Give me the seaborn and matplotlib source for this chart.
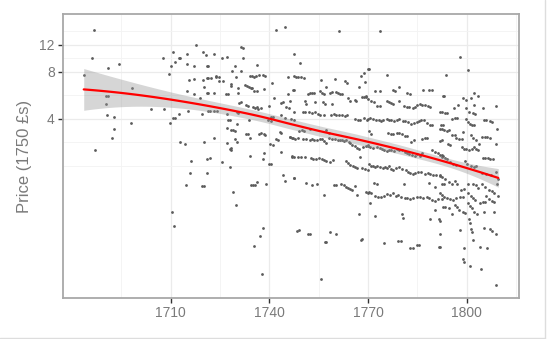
import numpy as np
import pandas as pd
import matplotlib
matplotlib.use('Agg')
import matplotlib.pyplot as plt
from matplotlib.lines import Line2D
from matplotlib.ticker import NullFormatter
import seaborn as sns

# (year, price in 1750 pounds), one list per stretch of years
era_1680_1725 = [
    (1686.6, 14.8), (1686.1, 9.8), (1690.9, 8.5), (1694.3, 9.0), (1683.6, 7.6),
    (1691.0, 5.6), (1690.5, 5.6), (1690.3, 5.0), (1690.8, 4.2), (1692.8, 4.1),
    (1697.9, 3.75), (1692.7, 3.45), (1692.1, 3.0), (1687.0, 2.5), (1698.2, 6.3),
    (1717.7, 11.9), (1707.8, 9.9), (1710.8, 10.7), (1710.0, 8.7), (1711.2, 9.3),
    (1712.5, 9.9), (1713.0, 9.9), (1714.9, 10.4), (1714.9, 9.0), (1717.0, 8.7),
    (1719.9, 10.7), (1720.7, 10.3), (1723.2, 10.4), (1721.1, 8.8), (1721.5, 8.8),
    (1709.5, 7.8), (1715.7, 7.1), (1717.1, 7.2), (1719.9, 7.1), (1721.0, 7.3),
    (1721.5, 7.35), (1722.2, 7.35), (1723.8, 7.4), (1724.6, 7.0), (1720.2, 6.4),
    (1715.1, 6.0), (1717.1, 5.8), (1718.9, 5.4), (1721.0, 5.9), (1721.5, 5.9),
    (1723.2, 5.9), (1704.1, 4.6), (1707.9, 4.6), (1715.2, 4.5), (1719.7, 4.3),
    (1721.4, 4.5), (1722.1, 4.5), (1723.2, 4.5), (1724.0, 4.5), (1712.6, 4.3),
    (1710.8, 4.05), (1711.3, 4.05), (1709.8, 3.75), (1713.0, 2.85), (1714.4, 2.75),
    (1720.2, 2.85), (1723.2, 3.0), (1716.2, 2.15), (1721.2, 2.2), (1722.0, 2.25),
    (1715.8, 1.8), (1721.2, 1.8), (1714.7, 1.5), (1719.7, 1.47), (1720.2, 1.47),
    (1710.5, 1.0), (1711.0, 0.82),
]

era_1724_1748 = [
    (1742.1, 14.9), (1744.9, 15.6), (1731.5, 11.5), (1731.9, 11.4), (1725.7, 9.8),
    (1727.0, 10.0), (1732.0, 9.9), (1729.7, 8.7), (1736.3, 8.9), (1728.8, 8.1),
    (1731.5, 8.1), (1723.9, 7.5), (1724.7, 7.4), (1725.9, 7.0), (1730.0, 7.4),
    (1734.1, 7.5), (1734.8, 7.5), (1735.4, 7.4), (1736.0, 7.5), (1736.8, 7.7),
    (1738.2, 7.7), (1738.7, 7.5), (1745.7, 7.4), (1747.5, 7.5), (1728.5, 6.7),
    (1728.3, 6.5), (1730.5, 6.3), (1732.6, 6.6), (1733.1, 6.5), (1733.8, 6.4),
    (1734.4, 6.3), (1734.8, 6.3), (1740.9, 6.8), (1745.7, 5.8), (1747.5, 6.1),
    (1726.7, 5.8), (1727.5, 5.8), (1730.5, 5.9), (1738.4, 6.2), (1736.2, 6.0),
    (1735.4, 6.0), (1741.5, 5.45), (1743.7, 5.05), (1744.2, 5.1), (1730.7, 5.05),
    (1731.3, 5.1), (1739.8, 4.85), (1732.8, 4.9), (1733.4, 4.85), (1735.1, 4.75),
    (1735.6, 4.7), (1736.2, 4.75), (1736.6, 4.6), (1737.6, 4.7), (1745.1, 4.75),
    (1746.1, 4.7), (1730.1, 4.4), (1730.5, 4.35), (1727.0, 4.3), (1740.5, 4.1),
    (1741.1, 4.1), (1743.5, 4.2), (1744.7, 4.05), (1746.7, 4.0), (1747.5, 3.95),
    (1728.0, 3.9), (1727.5, 3.9), (1733.8, 3.9), (1739.7, 3.9), (1740.5, 3.85),
    (1730.3, 3.7), (1727.1, 3.5), (1728.5, 3.37), (1728.9, 3.4), (1729.5, 3.35),
    (1733.0, 3.2), (1733.6, 3.2), (1736.8, 3.2), (1737.4, 3.25), (1738.4, 3.2),
    (1738.8, 3.15), (1743.3, 3.27), (1743.7, 3.25), (1746.3, 3.05), (1747.3, 3.0),
    (1727.1, 2.8), (1728.3, 2.6), (1728.1, 2.55), (1728.5, 2.5), (1729.7, 2.95),
    (1730.1, 2.85), (1734.2, 3.0), (1740.3, 2.75), (1741.1, 2.7), (1742.1, 2.95),
    (1742.5, 2.9), (1743.7, 2.45), (1734.2, 2.3), (1738.4, 2.4), (1738.1, 2.2),
    (1746.9, 2.3), (1725.7, 2.1), (1728.1, 1.95), (1739.9, 2.05), (1740.5, 2.05),
    (1744.1, 1.73), (1744.9, 1.6), (1747.5, 1.66), (1734.4, 1.5), (1735.0, 1.5),
    (1735.6, 1.5), (1736.4, 1.57), (1739.0, 1.52), (1728.9, 1.35), (1729.9, 1.12),
    (1738.2, 0.79), (1737.2, 0.70), (1735.4, 0.61), (1737.9, 0.40),
]

era_1746_1770 = [
    (1761.2, 14.6), (1747.6, 10.5), (1749.4, 9.1), (1748.0, 7.4), (1748.8, 7.4),
    (1749.6, 7.4), (1750.7, 7.3), (1755.8, 7.1), (1757.1, 6.4), (1760.0, 7.2),
    (1763.1, 7.0), (1763.6, 6.8), (1767.3, 6.4), (1767.9, 7.5), (1768.7, 7.9),
    (1769.9, 8.3), (1747.2, 6.1), (1751.9, 5.8), (1752.5, 5.85), (1752.9, 5.9),
    (1753.7, 5.85), (1755.3, 6.0), (1755.9, 5.9), (1756.7, 5.8), (1758.5, 5.85),
    (1759.1, 5.95), (1760.4, 5.95), (1761.0, 5.9), (1761.6, 5.8), (1762.2, 5.75),
    (1764.0, 5.4), (1764.6, 5.2), (1768.3, 5.5), (1768.7, 5.55), (1769.5, 5.6),
    (1750.9, 5.2), (1751.1, 5.0), (1753.9, 5.15), (1756.3, 5.1), (1756.9, 5.0),
    (1759.2, 5.0), (1766.0, 5.3), (1766.4, 5.2), (1746.4, 5.2), (1747.4, 4.45),
    (1750.2, 4.4), (1750.9, 4.4), (1752.1, 4.4), (1752.9, 4.35), (1753.9, 4.4),
    (1754.7, 4.3), (1755.5, 4.25), (1756.7, 4.25), (1758.7, 4.25), (1759.6, 4.3),
    (1760.4, 4.25), (1761.2, 4.2), (1762.0, 4.25), (1763.0, 4.15), (1763.6, 4.25),
    (1766.0, 4.0), (1767.1, 3.9), (1767.7, 3.9), (1768.9, 4.05), (1769.7, 3.95),
    (1749.0, 3.35), (1749.8, 3.37), (1750.7, 3.35), (1746.2, 3.05), (1747.0, 3.0),
    (1747.8, 2.98), (1748.6, 3.0), (1750.2, 2.95), (1751.1, 2.96), (1752.3, 2.93),
    (1753.1, 2.95), (1753.7, 2.9), (1754.5, 2.92), (1755.3, 2.97), (1755.9, 2.95),
    (1756.7, 2.87), (1757.3, 2.8), (1758.1, 3.0), (1759.2, 2.98), (1760.0, 2.95),
    (1760.8, 2.93), (1761.4, 2.9), (1762.0, 2.9), (1762.8, 2.87), (1763.4, 2.9),
    (1764.2, 2.85), (1764.4, 2.8), (1765.2, 2.72), (1766.0, 2.68), (1766.8, 2.6),
    (1767.4, 2.57), (1768.5, 2.65), (1769.3, 2.68), (1769.9, 2.66), (1757.3, 3.4),
    (1758.3, 3.25), (1752.3, 3.44), (1746.8, 2.28), (1747.6, 2.27), (1748.8, 2.26),
    (1749.6, 2.27), (1750.9, 2.26), (1752.7, 2.22), (1753.3, 2.2), (1754.3, 2.2),
    (1755.1, 2.23), (1755.9, 2.21), (1756.5, 2.18), (1757.3, 2.15), (1758.5, 2.12),
    (1759.4, 2.16), (1763.2, 2.14), (1764.0, 2.08), (1764.6, 2.03), (1765.4, 2.0),
    (1766.2, 1.97), (1766.8, 1.93), (1767.7, 2.28), (1768.3, 1.93), (1769.1, 1.9),
    (1770.1, 1.88), (1747.6, 1.66), (1751.1, 1.54), (1753.1, 1.5), (1754.5, 1.51),
    (1759.6, 1.5), (1760.2, 1.5), (1761.8, 1.52), (1762.6, 1.5), (1763.2, 1.46),
    (1763.8, 1.43), (1764.4, 1.42), (1765.2, 1.39), (1766.0, 1.48), (1766.8, 1.3),
    (1769.3, 1.36), (1769.9, 1.34), (1756.7, 1.29), (1767.3, 0.98), (1748.4, 0.76),
    (1749.0, 0.77), (1751.9, 0.73), (1752.5, 0.72), (1758.5, 0.75), (1760.2, 0.73),
    (1756.8, 0.64), (1757.1, 0.64), (1767.9, 0.66), (1768.3, 0.67), (1755.7, 0.37),
]

era_1769_1793 = [
    (1773.5, 14.6), (1770.4, 8.4), (1769.2, 6.9), (1775.7, 7.7), (1772.2, 6.0),
    (1773.7, 6.0), (1777.7, 6.1), (1778.3, 6.05), (1779.3, 6.4), (1782.0, 5.9),
    (1782.8, 5.8), (1786.8, 6.1), (1788.6, 6.1), (1789.4, 6.15), (1792.9, 5.6),
    (1769.4, 5.5), (1770.0, 5.35), (1771.0, 5.2), (1771.8, 5.1), (1772.8, 4.85),
    (1773.7, 4.85), (1775.7, 5.2), (1776.3, 5.1), (1777.1, 5.05), (1777.7, 5.0),
    (1779.5, 5.2), (1781.0, 4.85), (1781.8, 4.78), (1782.6, 4.75), (1783.6, 4.7),
    (1784.2, 4.78), (1785.0, 4.88), (1785.8, 4.95), (1786.4, 4.92), (1787.4, 4.88),
    (1788.2, 4.8), (1788.8, 4.78), (1791.9, 4.4), (1792.5, 4.45), (1770.0, 4.0),
    (1770.6, 4.02), (1771.4, 4.0), (1772.4, 3.95), (1773.3, 3.9), (1773.9, 3.85),
    (1774.7, 3.93), (1775.7, 3.97), (1776.3, 3.95), (1777.1, 3.9), (1777.9, 3.85),
    (1778.7, 3.9), (1779.5, 3.96), (1780.5, 3.87), (1781.3, 3.85), (1782.2, 3.8),
    (1783.0, 3.7), (1784.0, 3.75), (1784.8, 3.8), (1785.6, 3.85), (1786.2, 3.95),
    (1787.0, 3.9), (1788.0, 3.75), (1788.8, 3.67), (1789.6, 3.62), (1792.1, 3.65),
    (1792.9, 3.62), (1770.2, 3.35), (1771.0, 3.2), (1776.1, 3.22), (1776.9, 3.17),
    (1777.7, 3.2), (1778.7, 3.22), (1779.5, 3.25), (1780.3, 3.2), (1781.1, 3.08),
    (1782.0, 3.1), (1783.2, 2.85), (1784.0, 2.9), (1786.4, 2.97), (1787.2, 3.0),
    (1788.0, 3.02), (1770.0, 2.72), (1770.6, 2.65), (1771.6, 2.6), (1772.6, 2.65),
    (1773.5, 2.6), (1774.3, 2.55), (1774.9, 2.52), (1775.7, 2.47), (1776.5, 2.52),
    (1777.1, 2.5), (1777.9, 2.47), (1778.7, 2.55), (1779.5, 2.52), (1780.3, 2.5),
    (1781.1, 2.43), (1781.8, 2.4), (1782.6, 2.38), (1783.4, 2.34), (1784.2, 2.3),
    (1785.0, 2.36), (1785.8, 2.3), (1786.4, 2.42), (1791.9, 2.87), (1792.5, 2.9),
    (1789.6, 2.5), (1790.5, 2.45), (1791.3, 2.39), (1792.5, 2.33), (1792.9, 2.32),
    (1770.2, 2.04), (1770.8, 2.0), (1771.4, 1.99), (1772.0, 1.95), (1772.8, 2.0),
    (1773.7, 1.95), (1774.5, 1.93), (1775.3, 1.97), (1775.9, 1.93), (1776.3, 1.98),
    (1776.9, 1.89), (1777.7, 1.88), (1778.5, 1.92), (1779.5, 1.95), (1780.3, 1.9),
    (1781.6, 1.86), (1782.2, 1.81), (1782.8, 1.78), (1783.6, 1.77), (1784.4, 1.8),
    (1785.2, 1.81), (1786.2, 1.82), (1787.4, 1.77), (1788.2, 1.78), (1789.0, 1.77),
    (1789.9, 1.75), (1790.7, 1.74), (1791.9, 1.71), (1771.8, 1.55), (1772.6, 1.51),
    (1780.9, 1.52), (1788.4, 1.54), (1790.5, 1.45), (1770.4, 1.35), (1771.0, 1.33),
    (1772.0, 1.28), (1773.0, 1.25), (1774.1, 1.26), (1774.9, 1.27), (1775.9, 1.31),
    (1776.7, 1.29), (1777.7, 1.34), (1778.5, 1.28), (1779.1, 1.3), (1780.1, 1.25),
    (1781.1, 1.23), (1782.0, 1.24), (1782.8, 1.21), (1783.8, 1.24), (1784.8, 1.26),
    (1785.8, 1.25), (1786.8, 1.24), (1787.8, 1.25), (1788.6, 1.23), (1789.4, 1.2),
    (1790.3, 1.19), (1791.3, 1.21), (1792.5, 1.22), (1770.6, 1.14), (1790.3, 1.04),
    (1792.7, 1.08), (1772.2, 0.94), (1780.3, 0.97), (1780.7, 0.92), (1788.8, 0.91),
    (1791.7, 0.90), (1791.9, 0.72), (1774.9, 0.63), (1779.1, 0.65), (1779.9, 0.65),
    (1782.8, 0.59), (1783.6, 0.59), (1784.8, 0.62), (1785.6, 0.62), (1791.7, 0.60),
]

era_1791_1810 = [
    (1798.1, 10.0), (1800.3, 8.2), (1793.8, 7.6), (1793.0, 5.6), (1802.3, 5.9),
    (1803.5, 5.6), (1798.9, 5.4), (1801.3, 5.4), (1797.5, 4.9), (1796.1, 4.7),
    (1799.9, 5.3), (1799.9, 4.7), (1808.8, 4.8), (1802.3, 4.9), (1805.0, 4.7),
    (1793.4, 4.35), (1794.0, 4.33), (1800.7, 4.45), (1801.9, 4.35), (1802.5, 4.3),
    (1795.4, 4.0), (1796.3, 4.05), (1797.1, 4.02), (1799.9, 3.98), (1800.3, 3.8),
    (1800.9, 3.72), (1801.5, 3.66), (1802.1, 3.63), (1805.2, 3.93), (1806.0, 3.9),
    (1807.0, 3.87), (1807.8, 3.84), (1809.2, 3.45), (1791.8, 3.45), (1792.4, 3.42),
    (1793.2, 3.37), (1794.0, 3.35), (1794.6, 3.38), (1795.6, 3.13), (1796.3, 3.15),
    (1796.9, 3.0), (1797.7, 2.96), (1798.5, 2.98), (1798.9, 3.3), (1801.3, 3.13),
    (1801.9, 3.0), (1802.7, 2.93), (1804.6, 3.07), (1805.6, 3.05), (1806.2, 3.03),
    (1807.0, 3.0), (1809.0, 2.76), (1803.7, 2.74), (1794.2, 2.76), (1795.0, 2.7),
    (1798.5, 2.63), (1799.1, 2.56), (1799.9, 2.54), (1800.7, 2.5), (1801.5, 2.57),
    (1802.3, 2.63), (1802.9, 2.57), (1803.5, 2.5), (1805.0, 2.25), (1805.6, 2.23),
    (1806.4, 2.22), (1807.2, 2.2), (1808.0, 2.19), (1792.0, 2.35), (1792.6, 2.27),
    (1793.4, 2.25), (1794.0, 2.2), (1794.8, 2.1), (1795.8, 2.05), (1796.9, 2.02),
    (1799.5, 2.13), (1800.1, 2.05), (1801.3, 1.98), (1802.1, 1.97), (1802.7, 1.98),
    (1804.8, 1.78), (1806.0, 1.77), (1809.0, 1.81), (1809.4, 1.63), (1809.2, 1.51),
    (1807.4, 1.74), (1791.8, 1.73), (1792.6, 1.68), (1793.4, 1.63), (1794.6, 1.56),
    (1795.4, 1.52), (1796.5, 1.58), (1797.1, 1.52), (1792.4, 1.53), (1793.0, 1.52),
    (1798.3, 1.39), (1799.1, 1.42), (1800.3, 1.52), (1801.9, 1.53), (1802.7, 1.49),
    (1803.5, 1.43), (1804.8, 1.51), (1805.6, 1.45), (1806.8, 1.39), (1807.6, 1.38),
    (1808.4, 1.33), (1809.6, 1.28), (1791.8, 1.33), (1792.6, 1.3), (1793.2, 1.26),
    (1794.0, 1.24), (1795.0, 1.22), (1795.8, 1.2), (1796.7, 1.24), (1798.1, 1.26),
    (1798.9, 1.25), (1800.5, 1.33), (1801.3, 1.28), (1801.9, 1.24), (1802.5, 1.2),
    (1803.9, 1.15), (1805.0, 1.16), (1805.6, 1.17), (1806.0, 1.27), (1806.8, 1.21),
    (1807.6, 1.18), (1808.4, 1.17), (1793.4, 1.08), (1794.6, 1.06), (1796.3, 1.12),
    (1797.1, 1.08), (1797.7, 1.04), (1800.5, 1.14), (1801.1, 1.1), (1801.5, 1.06),
    (1795.4, 0.98), (1802.3, 1.01), (1803.1, 0.98), (1805.4, 1.01), (1808.2, 1.0),
    (1791.8, 0.88), (1798.9, 1.01), (1799.5, 0.99), (1800.7, 0.91), (1800.9, 0.85),
    (1801.3, 0.78), (1801.5, 0.75), (1798.1, 0.77), (1805.2, 0.79), (1807.0, 0.78),
    (1807.8, 0.76), (1808.8, 0.72), (1801.9, 0.66), (1791.8, 0.60), (1804.1, 0.60),
    (1806.2, 0.59), (1799.3, 0.59), (1798.9, 0.50), (1799.1, 0.48), (1800.9, 0.45),
    (1804.4, 0.43), (1808.8, 0.34),
]

x_breaks = [1710, 1740, 1770, 1800]
x_minor = [1695, 1725, 1755, 1785, 1815]
y_breaks = [4, 8, 12]
y_minor = [2, 2.83, 5.66, 9.8, 14.7]
y_title = 'Price (1750 £s)'


def loess(x, y, grid, span=0.9, degree=2, robust_iters=4):
    # local polynomial fit with tricube weights, bisquare robustness steps
    n = len(x)
    k = int(np.ceil(span * n))
    rob = np.ones(n)

    def weights_at(x0):
        d = np.abs(x - x0)
        h = np.sort(d)[k - 1]
        w = (1 - np.clip(d / h, 0, 1) ** 3) ** 3 * rob
        X = np.vander(x - x0, degree + 1, increasing=True)
        XtW = X.T * w
        return (np.linalg.pinv(XtW @ X) @ XtW)[0]

    for _ in range(robust_iters):
        r = y - np.array([weights_at(v) @ y for v in x])
        u = r / (6 * np.median(np.abs(r)))
        rob = np.where(np.abs(u) < 1, (1 - u ** 2) ** 2, 0)
    L_obs = np.array([weights_at(v) for v in x])
    r = y - L_obs @ y
    sigma = np.sqrt(np.sum(rob * r ** 2) / (np.sum(rob) - np.trace(L_obs)))
    L = np.array([weights_at(g) for g in grid])
    return L @ y, sigma * np.sqrt((L ** 2).sum(axis=1))


if __name__ == "__main__":
    rows = era_1680_1725 + era_1724_1748 + era_1746_1770 + era_1769_1793 + era_1791_1810
    df = pd.DataFrame(rows, columns=['year', 'price'])

    sns.set_style('white')
    plt.rcParams['font.family'] = ['Liberation Sans', 'DejaVu Sans']

    fig = plt.figure(figsize=(5.54, 3.39), dpi=100)
    ax = fig.add_axes([63 / 554, 1 - 298 / 339, 456 / 554, 284 / 339])

    sns.scatterplot(data=df, x='year', y='price', ax=ax, color='#5b5b5b',
                    s=4, linewidth=0, zorder=2)
    ax.set_yscale('log')

    # smooth on log prices
    x = df['year'].to_numpy(float)
    ly = np.log(df['price'].to_numpy(float))
    grid = np.linspace(x.min(), x.max(), 80)
    fit, se = loess(x, ly, grid)
    ax.fill_between(grid, np.exp(fit - 1.96 * se), np.exp(fit + 1.96 * se),
                    color='#999999', alpha=0.4, lw=0, zorder=3)
    ax.plot(grid, np.exp(fit), color='#ff0000', lw=1.6, zorder=4)

    # 5% expansion like ggplot (log space for y)
    x0, x1 = x.min(), x.max()
    l0, l1 = np.log10(df['price'].min()), np.log10(df['price'].max())
    ax.set_xlim(x0 - 0.05 * (x1 - x0), x1 + 0.05 * (x1 - x0))
    ax.set_ylim(10 ** (l0 - 0.05 * (l1 - l0)), 10 ** (l1 + 0.05 * (l1 - l0)))

    ax.set_xticks(x_breaks)
    ax.set_xticklabels([str(v) for v in x_breaks])
    ax.set_yticks(y_breaks)
    ax.set_yticklabels([str(v) for v in y_breaks])
    ax.set_xticks(x_minor, minor=True)
    ax.set_yticks(y_minor, minor=True)
    ax.yaxis.set_minor_formatter(NullFormatter())
    ax.xaxis.set_minor_formatter(NullFormatter())

    ax.set_axisbelow(True)
    ax.grid(which='major', color='#ebebeb', lw=0.9)
    ax.grid(which='minor', color='#f3f3f3', lw=0.6)
    ax.tick_params(which='major', length=3.5, width=1, color='#333333',
                   labelsize=10, labelcolor='#7a7a7a', pad=2.5)
    ax.tick_params(which='minor', length=0)
    ax.tick_params(axis='y', left=True)
    ax.tick_params(axis='x', bottom=True)

    for s in ax.spines.values():
        s.set_color('#a8a8a8')
        s.set_linewidth(1.3)

    ax.set_xlabel('')
    ax.set_ylabel(y_title, fontsize=12, color='#7a7a7a', labelpad=5)

    # faint frame at the right and bottom of the picture
    fig.add_artist(Line2D([545 / 554, 545 / 554], [1 / 339, 1], color='#dddddd', lw=1))
    fig.add_artist(Line2D([0, 545 / 554], [1 / 339, 1 / 339], color='#dddddd', lw=1))

    fig.savefig('out.png', dpi=100)
